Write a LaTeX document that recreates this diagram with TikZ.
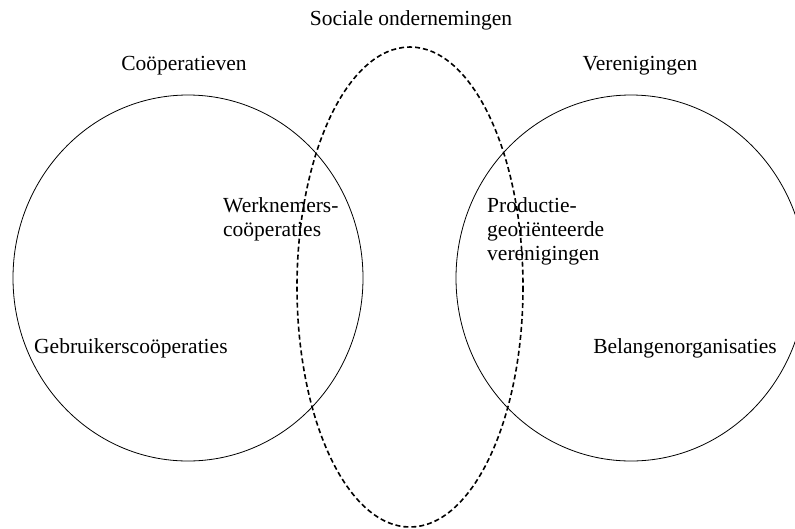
\documentclass[tikz,border=0pt]{standalone}
\usepackage{fontspec}
\setmainfont{Liberation Serif}
\begin{document}
\begin{tikzpicture}[x=1pt,y=-1pt,
    label/.style={inner sep=0pt,align=left,font=\fontsize{21.5}{24}\selectfont},
    set/.style={line width=0.8pt},
    sociaal/.style={line width=1.6pt,dash pattern=on 5pt off 3pt}]
    \useasboundingbox (0,0) rectangle (795,528);

        %Cooperatieven
        \begin{scope}[local bounding box=COOP]
            \draw[set] (188,278) ellipse [x radius=175, y radius=183];
            \node[label] (coop) at (184,66) {Coöperatieven};
            \node[label,anchor=west] (gebruikers) at (34,348) {Gebruikerscoöperaties};
        \end{scope}

        %Verenigingen
        \begin{scope}[local bounding box=VER]
            \draw[set] (631,278) ellipse [x radius=175, y radius=183];
            \node[label] (ver) at (640,66) {Verenigingen};
            \node[label,anchor=east] (belangen) at (777,348) {Belangenorganisaties};
        \end{scope}

        %Sociale ondernemingen
        \begin{scope}[local bounding box=SOC]
            \draw[sociaal] (410,287) ellipse [x radius=113, y radius=240];
            \node[label] (soc) at (411,20) {Sociale ondernemingen};
        \end{scope}

        %Overlap
        \node[label,anchor=west] (werknemers) at (223,219.5) {Werknemers-\\coöperaties};
        \node[label,anchor=west] (productie) at (487,231) {Productie-\\georiënteerde\\verenigingen};
    \end{tikzpicture}
\end{document}
